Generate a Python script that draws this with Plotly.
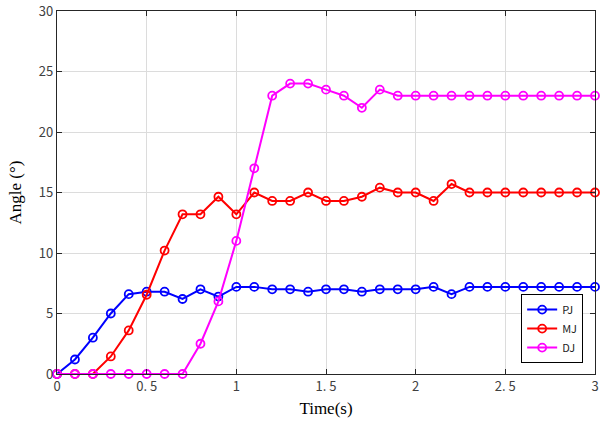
import plotly.graph_objects as go

# time axis, one sample every 0.1 s
time_s = [round(i * 0.1, 1) for i in range(31)]

pj_angle = [0, 1.2, 3.0, 5.0, 6.6, 6.8, 6.8, 6.2, 7.0, 6.4,
            7.2, 7.2, 7.0, 7.0, 6.8, 7.0, 7.0, 6.8, 7.0, 7.0,
            7.0, 7.2, 6.6, 7.2, 7.2, 7.2, 7.2, 7.2, 7.2, 7.2, 7.2]
mj_angle = [0, 0, 0, 1.45, 3.6, 6.55, 10.2, 13.2, 13.2, 14.65,
            13.2, 15.0, 14.3, 14.3, 15.0, 14.3, 14.3, 14.65, 15.4, 15.0,
            15.0, 14.3, 15.7, 15.0, 15.0, 15.0, 15.0, 15.0, 15.0, 15.0, 15.0]
dj_angle = [0, 0, 0, 0, 0, 0, 0, 0, 2.5, 6.0,
            11.0, 17.0, 23.0, 24.0, 24.0, 23.5, 23.0, 22.0, 23.5, 23.0,
            23.0, 23.0, 23.0, 23.0, 23.0, 23.0, 23.0, 23.0, 23.0, 23.0, 23.0]

x_ticks = [0, 0.5, 1, 1.5, 2, 2.5, 3]
x_tick_labels = ["0", "0. 5", "1", "1. 5", "2", "2. 5", "3"]
y_ticks = [0, 5, 10, 15, 20, 25, 30]

SERIES = [
    ("PJ", pj_angle, "#0000ff"),
    ("MJ", mj_angle, "#ff0000"),
    ("DJ", dj_angle, "#ff00ff"),
]

fig = go.Figure()
for name, vals, color in SERIES:
    fig.add_trace(go.Scatter(
        x=time_s, y=vals, name=name, mode="lines+markers",
        line=dict(color=color, width=2),
        marker=dict(symbol="circle-open", size=8, color=color, line=dict(width=1.8, color=color)),
        cliponaxis=False,
    ))

axis_common = dict(
    showline=True, linecolor="#262626", linewidth=1.2, mirror="ticks",
    ticks="inside", ticklen=5, tickcolor="#262626",
    showgrid=True, gridcolor="#dcdcdc", gridwidth=1, zeroline=False,
    automargin=False,
    tickfont=dict(family="Noto Sans CJK SC", size=13, color="#404040"),
)

fig.update_xaxes(range=[0, 3], tickvals=x_ticks, ticktext=x_tick_labels,
                 title=dict(text="Time(s)", font=dict(family="Liberation Serif", size=17, color="#000"),
                            standoff=8),
                 **axis_common)
fig.update_yaxes(range=[0, 30], tickvals=y_ticks,
                 title=dict(text="Angle (°)", font=dict(family="Liberation Serif", size=17, color="#000"),
                            standoff=12),
                 **axis_common)

fig.update_layout(
    width=608, height=425,
    margin=dict(l=57, r=13, t=11, b=51),
    plot_bgcolor="white", paper_bgcolor="white",
    showlegend=True,
    legend=dict(x=0.978, y=0.03, xanchor="right", yanchor="bottom",
                bgcolor="white", bordercolor="#000", borderwidth=1,
                font=dict(family="Noto Sans CJK SC", size=11, color="#222"),
                tracegroupgap=0, itemwidth=30),
)

# drop the browser's default body margin so the figure sits at the page corner
fig.write_html("out.html", config={"displayModeBar": False},
               post_script="document.body.style.margin='0';")
